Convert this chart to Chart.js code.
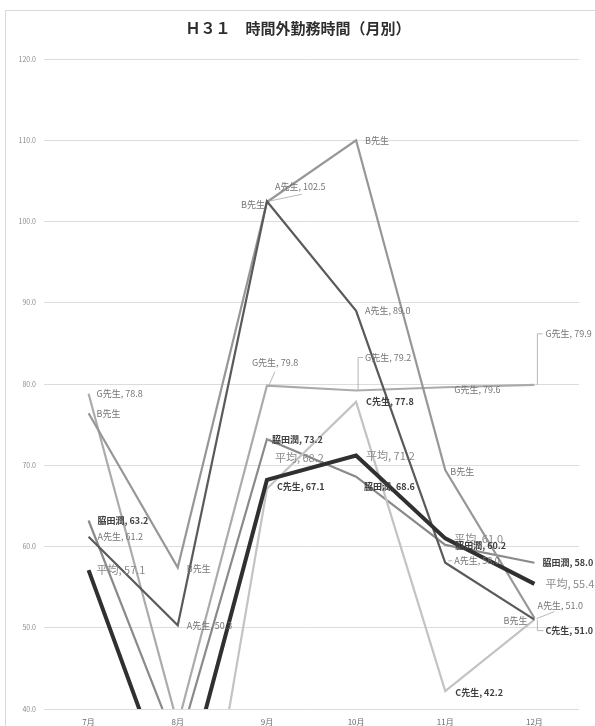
<!DOCTYPE html>
<html lang="ja">
<head>
<meta charset="utf-8">
<title>Ｈ３１　時間外勤務時間（月別）</title>
<script src="https://cdn.jsdelivr.net/npm/chart.js@4/dist/chart.umd.min.js"></script>
<style>
  html, body { margin: 0; padding: 0; background: #fff; }
  #wrap { position: relative; width: 595px; height: 726px; overflow: hidden; }
  #frame { position: absolute; left: 5px; top: 10px; width: 620px; height: 740px;
           border-top: 1px solid #d9d9d9; border-left: 1px solid #d9d9d9; }
  #chart { position: absolute; left: 0; top: 0; }
</style>
</head>
<body>
<div id="wrap">
  <div id="frame"></div>
  <canvas id="chart" width="595" height="726"></canvas>
</div>
<script>
// Months
const months = ['7月', '8月', '9月', '10月', '11月', '12月'];

// Overtime hours per person
const heikin   = [57.1, 27.0, 68.2, 71.2, 61.0, 55.4];
const teacherA = [61.2, 50.3, 102.5, 89.0, 58.0, 51.0];
const teacherB = [76.4, 57.4, 102.4, 110.0, 69.4, 51.2];
const teacherC = [null, 3.0, 67.1, 77.8, 42.2, 51.0];
const teacherG = [78.8, 38.1, 79.8, 79.2, 79.6, 79.9];
const wakita   = [63.2, 35.2, 73.2, 68.6, 60.2, 58.0];

// Y axis ticks
const yTicks = [40, 50, 60, 70, 80, 90, 100, 110, 120];

const chartTitle = 'Ｈ３１　時間外勤務時間（月別）';

const FONT = '"Noto Sans CJK JP", "Noto Sans", sans-serif';

// Label styles per series
const labelStyle = {
  heikin: { size: 11, weight: 'normal', color: '#8a8a8a' },
  plain:  { size: 9,  weight: 'normal', color: '#767676' },
  dark:   { size: 9,  weight: '600',    color: '#3f3f3f' }
};

// Data label placement: [pointIndex, dx, dy, align, showValue, leader]
const labelPlacement = [
  { ds: 0, style: 'heikin', items: [
    [0, 8, 0, 'left', true], [2, 8, -22, 'left', true], [3, 10, 0, 'left', true],
    [4, 9, 0, 'left', true], [5, 11, 0, 'left', true] ] },
  { ds: 1, style: 'plain', items: [
    [0, 9, 0, 'left', true], [1, 9, 0, 'left', true],
    [2, 8, -15, 'left', true, [[2, 0], [35, -7]]],
    [3, 9, 0, 'left', true],
    [4, 9, -2, 'left', true, [[3, -2], [7, -2]]],
    [5, 3, -14, 'left', true, [[2, -1], [20, -8]]] ] },
  { ds: 2, style: 'plain', items: [
    [0, 8, 0, 'left', false], [1, 9, 1, 'left', false], [2, -2, 3, 'right', false],
    [3, 9, 0, 'left', false], [4, 5, 1, 'left', false], [5, -7, 3, 'right', false] ] },
  { ds: 3, style: 'dark', items: [
    [2, 10, -2, 'left', true], [3, 10, 0, 'left', true], [4, 10, 1, 'left', true],
    [5, 11, 11, 'left', true, [[3, 0], [3, 11], [9, 11]]] ] },
  { ds: 4, style: 'plain', items: [
    [0, 8, 0, 'left', true],
    [2, -15, -23, 'left', true, [[8, -14], [2, 0]]],
    [3, 9, -33, 'left', true, [[2, 0], [2, -33], [7, -33]]],
    [4, 9, 2, 'left', true],
    [5, 11, -51, 'left', true, [[3, 0], [3, -51], [8, -51]]] ] },
  { ds: 5, style: 'dark', items: [
    [0, 9, 0, 'left', true], [2, 5, 0, 'left', true, [[0, 0], [4, 0]]],
    [3, 8, 10, 'left', true], [4, 10, 1, 'left', true], [5, 8, 0, 'left', true] ] }
];

// Chart heading, centred on the page
const heading = {
  id: 'heading',
  afterDraw(chart) {
    const ctx = chart.ctx;
    ctx.save();
    ctx.font = 'bold 15px ' + FONT;
    ctx.fillStyle = '#2e2e2e';
    ctx.textAlign = 'center';
    ctx.textBaseline = 'middle';
    ctx.fillText(chartTitle, 298, 28);
    ctx.restore();
  }
};

const pointLabels = {
  id: 'pointLabels',
  afterDatasetsDraw(chart) {
    const ctx = chart.ctx;
    ctx.save();
    labelPlacement.forEach(group => {
      const ds = chart.data.datasets[group.ds];
      const meta = chart.getDatasetMeta(group.ds);
      const st = labelStyle[group.style];
      group.items.forEach(([i, dx, dy, align, showValue, leader]) => {
        const v = ds.data[i];
        if (v == null) return;
        const pt = meta.data[i];
        const x = pt.x, y = pt.y;
        if (leader) {
          ctx.beginPath();
          ctx.strokeStyle = '#a6a6a6';
          ctx.lineWidth = 0.8;
          leader.forEach(([lx, ly], k) => {
            if (k === 0) ctx.moveTo(x + lx, y + ly); else ctx.lineTo(x + lx, y + ly);
          });
          ctx.stroke();
        }
        const text = showValue ? ds.label + ', ' + v.toFixed(1) : ds.label;
        ctx.font = st.weight + ' ' + st.size + 'px ' + FONT;
        ctx.fillStyle = st.color;
        ctx.textAlign = align;
        ctx.textBaseline = 'middle';
        ctx.fillText(text, x + dx, y + dy);
      });
    });
    ctx.restore();
  }
};

function line(label, data, color, width) {
  return {
    label, data,
    borderColor: color, backgroundColor: color,
    borderWidth: width, pointRadius: 0, pointHoverRadius: 0,
    tension: 0, fill: false, clip: 0, spanGaps: false
  };
}

new Chart(document.getElementById('chart'), {
  type: 'line',
  data: {
    labels: months,
    datasets: [
      line('平均', heikin, '#303030', 4),
      line('A先生', teacherA, '#5a5a5a', 2.2),
      line('B先生', teacherB, '#979797', 2.2),
      line('C先生', teacherC, '#c3c3c3', 2.2),
      line('G先生', teacherG, '#ababab', 2.2),
      line('脇田潤', wakita, '#8a8a8a', 2.2)
    ]
  },
  options: {
    responsive: false,
    animation: false,
    devicePixelRatio: 1,
    layout: { padding: { left: 0, right: 16, top: 59, bottom: 0 } },
    plugins: {
      legend: { display: false },
      tooltip: { enabled: false },
      title: { display: false }
    },
    scales: {
      x: {
        offset: true,
        grid: { display: false, drawTicks: false },
        border: { display: false },
        ticks: { color: '#6a6a6a', font: { family: FONT, size: 8 }, padding: 8 },
        afterFit(s) { s.height = 17; }
      },
      y: {
        min: yTicks[0],
        max: yTicks[yTicks.length - 1],
        afterBuildTicks(s) { s.ticks = yTicks.map(v => ({ value: v })); },
        grid: { color: '#dcdcdc', lineWidth: 1, drawTicks: false },
        border: { display: false },
        ticks: {
          color: '#8c8c8c', font: { family: FONT, size: 7 }, padding: 8,
          callback: v => Number(v).toFixed(1)
        },
        afterFit(s) { s.width = 44; }
      }
    }
  },
  plugins: [pointLabels, heading]
});
</script>
</body>
</html>
